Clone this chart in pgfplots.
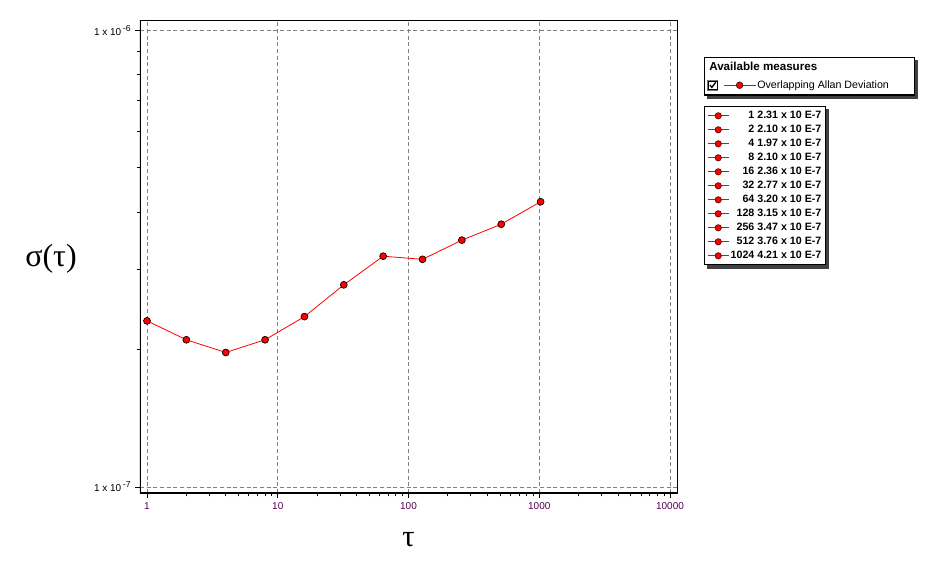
\documentclass[border=0pt]{standalone}
\usepackage{pgfplots}
\pgfplotsset{compat=1.18}
\usepackage{fontspec}
\setmainfont{Liberation Sans}
\newfontfamily\serifsym{Liberation Serif}
\definecolor{ticklab}{RGB}{85,0,85}
\definecolor{gridgray}{RGB}{128,128,128}
\pgfdeclarelayer{background}
\pgfsetlayers{background,main}

\pgfplotstableread{
tau adev
1 2.31e-7
2 2.10e-7
4 1.97e-7
8 2.10e-7
16 2.36e-7
32 2.77e-7
64 3.20e-7
128 3.15e-7
256 3.47e-7
512 3.76e-7
1024 4.21e-7
}\adevdata

\pgfplotsset{
  adevimg/.style={legend image code/.code={
      \draw[red, line width=0.6pt] (0pt,0pt) -- (16pt,0pt);
      \draw[fill=red, draw=black!80!red, line width=0.4pt] (8pt,0pt) circle (2.4pt);
  }},
}

\begin{document}
\begin{tikzpicture}
\useasboundingbox (-105pt,-60.75pt) rectangle (599.25pt,369.75pt);
\begin{axis}[
  at={(0,0)}, anchor=south west,
  scale only axis, width=402.75pt, height=354.75pt,
  xmode=log, ymode=log,
  xmin=0.884, xmax=11310, ymin=9.70e-8, ymax=1.052e-6,
  xtick={1,10,100,1000,10000},
  xticklabels={1,10,100,1000,10000},
  minor xtick={2,3,4,5,6,7,8,9,20,30,40,50,60,70,80,90,200,300,400,500,600,700,800,900,2000,3000,4000,5000,6000,7000,8000,9000},
  ytick={1e-7,1e-6},
  yticklabels={1 x 10\,\raisebox{0.75ex}{\fontsize{6.5}{6.5}\selectfont -7},1 x 10\,\raisebox{0.75ex}{\fontsize{6.5}{6.5}\selectfont -6}},
  minor ytick={2e-7,3e-7,4e-7,5e-7,6e-7,7e-7,8e-7,9e-7},
  xtick pos=bottom, ytick pos=left,
  tick align=outside,
  major tick length=3.5pt, minor tick length=2.5pt,
  tick style={black, line width=0.6pt},
  xticklabel style={font=\fontsize{7.5}{9}\selectfont, text=ticklab},
  yticklabel style={font=\fontsize{7.5}{9}\selectfont, text=black},
  xmajorgrids, ymajorgrids,
  major grid style={gridgray, line width=0.6pt, dash pattern=on 3pt off 2pt},
  axis line style={black, line width=0.7pt},
  xlabel={\serifsym\fontsize{23}{23}\selectfont τ},
  xlabel style={at={(axis description cs:0.5,-0.114)}, anchor=base},
  ylabel={\serifsym\fontsize{24}{24}\selectfont σ(τ)},
  ylabel style={rotate=-90, at={(axis description cs:-0.1657,0.478)}, anchor=base},
  legend style={name=legvals, at={(1.050,0.818)}, anchor=north west,
    draw=black, line width=1pt, fill=white,
    font=\fontsize{8}{9}\selectfont\bfseries,
    row sep=0pt, inner xsep=2pt, inner ysep=1.5pt,
    nodes={inner sep=1pt, text height=6.6pt, text depth=1.9pt}},
  legend cell align=right,
]
\addplot[red, line width=0.6pt, mark=*, mark size=2.6pt,
  mark options={fill=red, draw=black, line width=0.5pt}, forget plot]
  table[x=tau, y=adev] {\adevdata};
\draw[black, line width=2pt] (rel axis cs:0,1) -- (rel axis cs:0,0) -- (rel axis cs:1,0);
\addlegendimage{adevimg}\addlegendentry{1 2.31 x 10 E-7}
\addlegendimage{adevimg}\addlegendentry{2 2.10 x 10 E-7}
\addlegendimage{adevimg}\addlegendentry{4 1.97 x 10 E-7}
\addlegendimage{adevimg}\addlegendentry{8 2.10 x 10 E-7}
\addlegendimage{adevimg}\addlegendentry{16 2.36 x 10 E-7}
\addlegendimage{adevimg}\addlegendentry{32 2.77 x 10 E-7}
\addlegendimage{adevimg}\addlegendentry{64 3.20 x 10 E-7}
\addlegendimage{adevimg}\addlegendentry{128 3.15 x 10 E-7}
\addlegendimage{adevimg}\addlegendentry{256 3.47 x 10 E-7}
\addlegendimage{adevimg}\addlegendentry{512 3.76 x 10 E-7}
\addlegendimage{adevimg}\addlegendentry{1024 4.21 x 10 E-7}
\end{axis}
\begin{axis}[
  at={(0,0)}, anchor=south west,
  scale only axis, width=402.75pt, height=354.75pt,
  hide axis, xmin=0, xmax=1, ymin=0, ymax=1,
  legend style={name=legmeas, at={(1.050,0.922)}, anchor=north west,
    draw=black, line width=1pt, fill=white,
    font=\fontsize{8}{9}\selectfont,
    row sep=3pt, inner xsep=2pt, inner ysep=2pt,
    nodes={inner sep=1pt, text height=6.6pt, text depth=1.9pt}},
  legend cell align=left,
]
\addlegendimage{empty legend}
\addlegendentry{\hspace*{-36pt}\fontsize{8.7}{9}\selectfont\bfseries Available measures}
\addlegendimage{legend image code/.code={
    \draw[black!55, line width=0.6pt, fill=white] (-2pt,-3.7pt) rectangle (5.5pt,3.7pt);
    \draw[black, line width=0.4pt] (-1.4pt,-3.1pt) rectangle (4.9pt,3.1pt);
    \draw[black, line width=1pt] (-0.3pt,0.2pt) -- (1.2pt,-1.6pt) -- (4.1pt,2.2pt);
    \draw[red, line width=0.6pt] (10pt,0pt) -- (34pt,0pt);
    \draw[fill=red, draw=black!80!red, line width=0.4pt] (22pt,0pt) circle (2.5pt);
}}
\addlegendentry{Overlapping Allan Deviation\hspace*{16pt}}
\end{axis}
\begin{pgfonlayer}{background}
\fill[black!75] ([shift={(2.5pt,-2.5pt)}]legvals.south west) rectangle ([shift={(2.5pt,-2.5pt)}]legvals.north east);
\fill[black!75] ([shift={(2.5pt,-2.5pt)}]legmeas.south west) rectangle ([shift={(2.5pt,-2.5pt)}]legmeas.north east);
\end{pgfonlayer}
\end{tikzpicture}
\end{document}
